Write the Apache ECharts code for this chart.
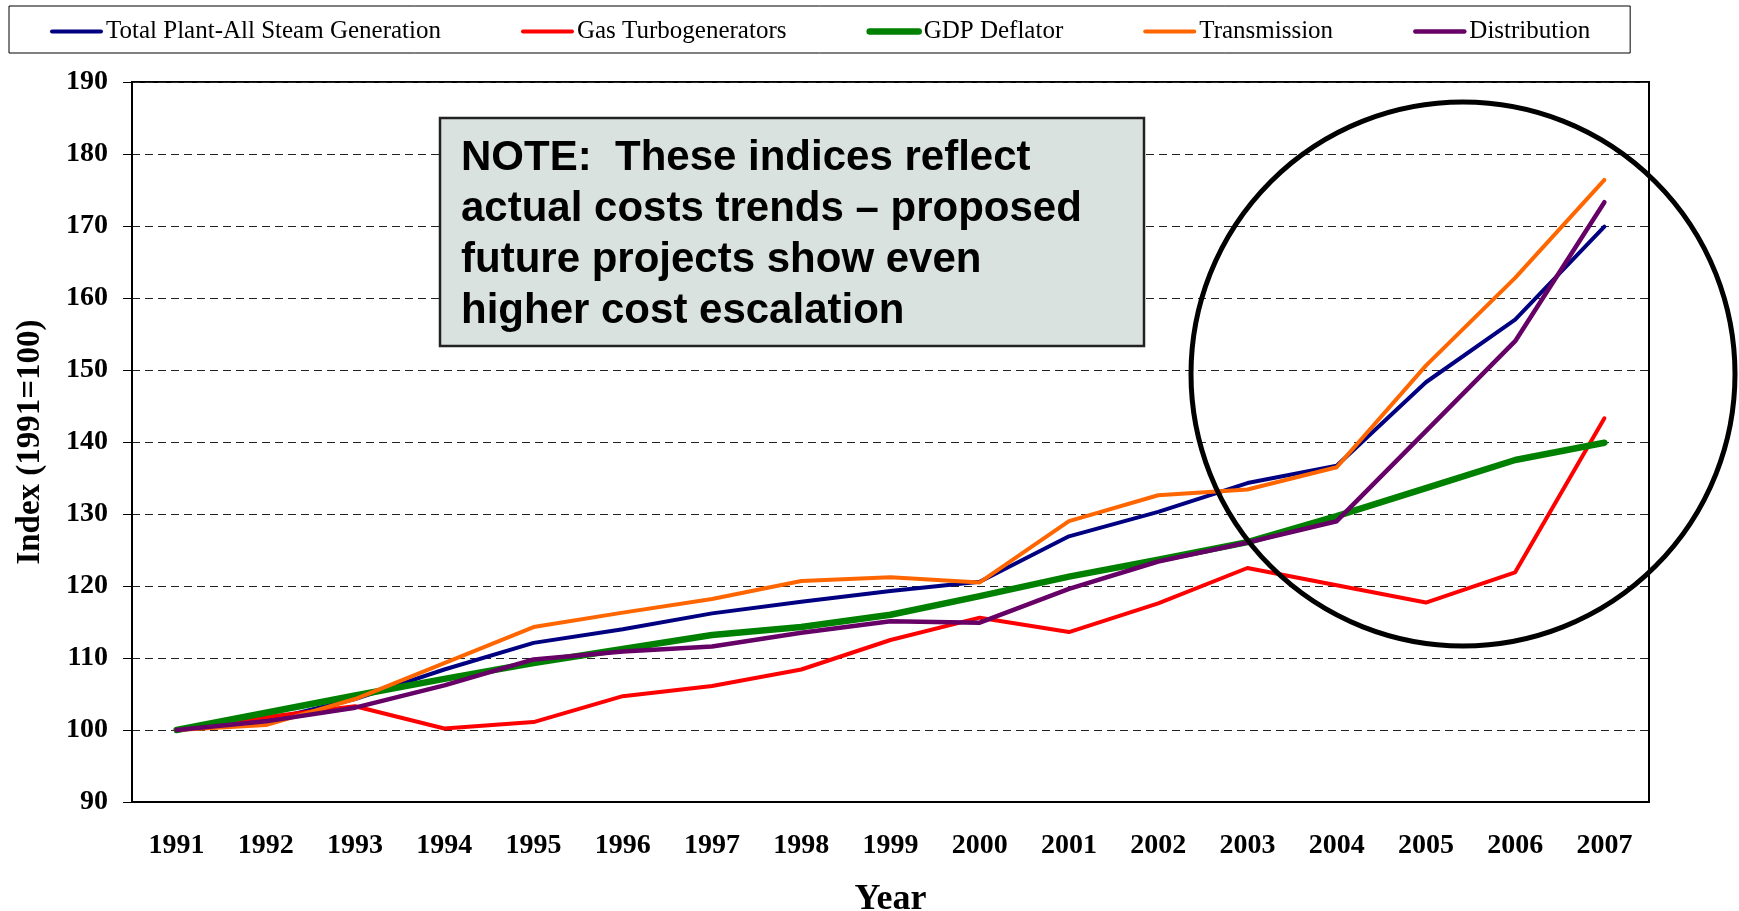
<!DOCTYPE html>
<html>
<head>
<meta charset="utf-8">
<script src="https://cdn.jsdelivr.net/npm/echarts@6/dist/echarts.min.js"></script>
<style>
  html, body { margin: 0; padding: 0; background: #fff; }
  #trendChart { width: 1739px; height: 911px; }
</style>
</head>
<body>
<div id="trendChart"></div>
<script>
const years = ["1991", "1992", "1993", "1994", "1995", "1996", "1997", "1998", "1999",
  "2000", "2001", "2002", "2003", "2004", "2005", "2006", "2007"];
const steamData = [100, 101.3, 104.3, 108.4, 112.1, 114.0, 116.2, 117.8, 119.3,
  120.6, 126.9, 130.3, 134.3, 136.7, 148.3, 157.0, 169.9];
const gasTurbineData = [100, 101.8, 103.3, 100.2, 101.1, 104.7, 106.1, 108.4, 112.5,
  115.6, 113.6, 117.6, 122.5, 120.1, 117.7, 121.9, 143.3];
const gdpDeflatorData = [100, 102.4, 104.8, 107.1, 109.3, 111.25, 113.2, 114.3, 116.0,
  118.6, 121.3, 123.65, 126.1, 129.7, 133.6, 137.5, 139.9];
const transmissionData = [100, 100.7, 104.3, 109.3, 114.3, 116.3, 118.2, 120.7, 121.2,
  120.5, 129.0, 132.6, 133.4, 136.5, 150.6, 162.8, 176.4];
const distributionData = [100, 101.2, 103.1, 106.2, 109.8, 110.9, 111.6, 113.5, 115.1,
  114.9, 119.6, 123.4, 126.05, 129.0, 141.5, 154.0, 173.3];

const seriesNames = ["Total Plant-All Steam Generation", "Gas Turbogenerators",
  "GDP Deflator", "Transmission", "Distribution"];
const seriesColors = ["#000080", "#ff0000", "#008000", "#ff6600", "#660066"];
const seriesWidths = [4, 4, 6.5, 4, 4.5];
const seriesValues = [steamData, gasTurbineData, gdpDeflatorData, transmissionData, distributionData];

const noteText = "NOTE:  These indices reflect\nactual costs trends \u2013 proposed\nfuture projects show even\nhigher cost escalation";

const serif = "'Liberation Serif', 'Times New Roman', serif";
const sans = "'Liberation Sans', Arial, sans-serif";

const myChart = echarts.init(document.querySelector("#trendChart"));

const seriesArr = seriesValues.map((vals, index) => {
  return {
    name: seriesNames[index],
    type: "line",
    data: vals,
    symbol: "none",
    showSymbol: false,
    color: seriesColors[index],
    lineStyle: {
      color: seriesColors[index],
      width: seriesWidths[index],
      cap: "round",
      join: "round",
    },
    z: 2 + index,
  };
});

myChart.setOption({
  animation: false,
  textStyle: { fontFamily: serif },
  grid: {
    left: 132,
    right: 90,
    top: 82,
    bottom: 109,
    outerBoundsMode: "none",
    show: true,
    borderColor: "#000",
    borderWidth: 2,
  },
  legend: {
    left: 9,
    top: 6,
    padding: [13, 40, 9, 41],
    itemGap: 80,
    itemWidth: 49,
    itemHeight: 14,
    borderColor: "#000",
    borderWidth: 1,
    itemStyle: { opacity: 0 },
    textStyle: { fontFamily: serif, fontSize: 25, color: "#000" },
    data: seriesNames.map((name, index) => {
      return {
        name: name,
        itemStyle: { opacity: 0 },
        lineStyle: { width: seriesWidths[index], cap: "round", opacity: 1 },
      };
    }),
  },
  xAxis: {
    type: "category",
    data: years,
    name: "Year",
    nameLocation: "middle",
    nameGap: 80,
    nameTextStyle: { fontFamily: serif, fontSize: 36, fontWeight: "bold", color: "#000" },
    axisLine: { lineStyle: { color: "#000", width: 2 } },
    axisTick: { length: 8, lineStyle: { color: "#000", width: 1 } },
    axisLabel: { margin: 30, fontFamily: serif, fontSize: 28, fontWeight: "bold", color: "#000" },
  },
  yAxis: {
    type: "value",
    min: 90,
    max: 190,
    interval: 10,
    name: "Index (1991=100)",
    nameLocation: "middle",
    nameRotate: 90,
    nameGap: 85,
    nameTextStyle: { fontFamily: serif, fontSize: 33, fontWeight: "bold", color: "#000" },
    axisLine: { show: true, lineStyle: { color: "#000", width: 2 } },
    axisTick: { show: true, length: 9, lineStyle: { color: "#000", width: 1 } },
    axisLabel: { margin: 24, fontFamily: serif, fontSize: 28, fontWeight: "bold", color: "#000" },
    splitLine: { lineStyle: { color: "#222", width: 1, type: [8, 5] } },
  },
  series: seriesArr,
  graphic: [
    {
      type: "rect",
      z: 50,
      shape: { x: 440, y: 118, width: 704, height: 228 },
      style: { fill: "#d9e2df", stroke: "#222", lineWidth: 2.5 },
    },
    {
      type: "text",
      z: 51,
      x: 461,
      y: 133,
      style: {
        text: noteText,
        fontFamily: sans,
        fontSize: 42,
        fontWeight: "bold",
        lineHeight: 51,
        fill: "#000",
        verticalAlign: "top",
      },
    },
    {
      type: "circle",
      z: 60,
      shape: { cx: 1463, cy: 374, r: 272 },
      style: { fill: null, stroke: "#000", lineWidth: 5 },
    },
  ],
});
</script>
</body>
</html>
